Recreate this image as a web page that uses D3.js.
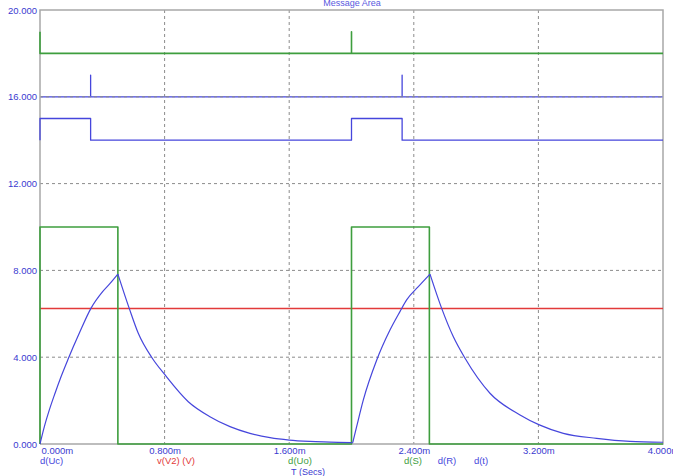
<!DOCTYPE html>
<html>
<head>
<meta charset="utf-8">
<script src="https://cdn.jsdelivr.net/npm/d3@7"></script>
<style>
  html, body { margin: 0; padding: 0; background: #fff; }
  svg { display: block; font-family: "Liberation Sans", Arial, sans-serif; }
  .tick-lbl { font-size: 9.5px; fill: #3a3ad0; }
  .grid { stroke: #8c8c8c; stroke-width: 1; stroke-dasharray: 3,3; }
  .frame { stroke: #a8a8a8; stroke-width: 1.5; fill: none; }
  .trace { fill: none; stroke-linejoin: round; }
</style>
</head>
<body>
<svg id="chart" width="673" height="476"></svg>
<script>
// time axis in ms
const xTicks = [0, 0.8, 1.6, 2.4, 3.2, 4.0];
const yTicks = [0, 4, 8, 12, 16, 20];

// d(Uc) capacitor voltage
const ucT = [0, 0.028, 0.06, 0.096, 0.135, 0.178, 0.252, 0.327, 0.402, 0.45, 0.5,
  0.573, 0.631, 0.721, 0.803, 0.952, 1.091, 1.22, 1.348, 1.477, 1.6, 1.733, 1.862, 2.0,
  2.008, 2.033, 2.076, 2.162, 2.247, 2.311, 2.354, 2.429, 2.504,
  2.579, 2.654, 2.729, 2.889, 3.082, 3.206, 3.36, 3.574, 3.788, 4.0];
const ucV = [0, 0.8, 1.57, 2.33, 3.1, 3.87, 5.1, 6.25, 7.02, 7.4, 7.83,
  6.25, 5.1, 3.95, 3.18, 1.95, 1.26, 0.8, 0.49, 0.29, 0.18, 0.12, 0.09, 0.06,
  0.06, 0.8, 2.03, 3.87, 5.25, 6.1, 6.64, 7.25, 7.83,
  6.25, 4.94, 3.95, 2.34, 1.34, 0.88, 0.49, 0.26, 0.12, 0.08];
// charge / discharge segment boundaries (times)
const ucBreaks = [0, 0.5, 2.0, 2.008, 2.504, 4.0];

// v(V2) reference level
const v2T = [0, 4.0];
const v2V = [6.25, 6.25];

// d(Uo) output square pulse
const uoT = [0, 0, 0.5, 0.5, 2.0, 2.0, 2.5, 2.5, 4.0];
const uoV = [0, 10, 10, 0, 0, 10, 10, 0, 0];

// d(S) set spikes
const sT = [0, 0, 2.0, 2.0, 2.0, 4.0];
const sV = [19, 18, 18, 19, 18, 18];

// d(R) reset spikes
const rT = [0, 0.325, 0.325, 0.325, 2.325, 2.325, 2.325, 4.0];
const rV = [16, 16, 17, 16, 16, 17, 16, 16];

// d(t) latch state
const tT = [0, 0, 0.325, 0.325, 2.0, 2.0, 2.325, 2.325, 4.0];
const tV = [14, 15, 15, 14, 14, 15, 15, 14, 14];

const GREEN = '#3e9e3e', BLUE = '#4646dc', RED = '#e23a3a';

const W = 673, H = 476;
const m = { top: 10, right: 10, bottom: 32, left: 40 };
const svg = d3.select('#chart');

const x = d3.scaleLinear().domain([0, 4]).range([m.left, W - m.right]);
const y = d3.scaleLinear().domain([0, 20]).range([H - m.bottom, m.top]);

const zip = (a, b) => a.map((t, i) => [t, b[i]]);
const line = d3.line().x(d => x(d[0])).y(d => y(d[1]));
const smooth = d3.line().x(d => x(d[0])).y(d => y(d[1])).curve(d3.curveMonotoneX);

// traces that sit under the grid
svg.append('path').attr('class', 'trace')
  .attr('d', line(zip(rT, rV))).attr('stroke', BLUE).attr('stroke-width', 1.3);

// grid
svg.append('g').selectAll('line.gx')
  .data(xTicks.slice(1, -1))
  .join('line').attr('class', 'grid')
  .attr('x1', d => x(d)).attr('x2', d => x(d))
  .attr('y1', y(20)).attr('y2', y(0));
svg.append('g').selectAll('line.gy')
  .data(yTicks.slice(1, -1))
  .join('line').attr('class', 'grid')
  .attr('y1', d => y(d)).attr('y2', d => y(d))
  .attr('x1', x(0)).attr('x2', x(4));

// frame
svg.append('path').attr('class', 'frame')
  .attr('d', `M${x(0)},${y(0)}V${y(20)}H${x(4)}V${y(0)}H${x(0)}`);

// traces
svg.append('path').attr('class', 'trace')
  .attr('d', line(zip(v2T, v2V))).attr('stroke', RED).attr('stroke-width', 1.5);
svg.append('path').attr('class', 'trace')
  .attr('d', line(zip(uoT, uoV))).attr('stroke', GREEN).attr('stroke-width', 1.6);
svg.append('path').attr('class', 'trace')
  .attr('d', line(zip(sT, sV))).attr('stroke', GREEN).attr('stroke-width', 1.6);
svg.append('path').attr('class', 'trace')
  .attr('d', line(zip(tT, tV))).attr('stroke', BLUE).attr('stroke-width', 1.3);

// Uc drawn piecewise so the peaks stay sharp
const ucPts = zip(ucT, ucV);
const ucSegs = d3.pairs(ucBreaks).map(([a, b]) => ucPts.filter(p => p[0] >= a && p[0] <= b));
svg.append('g').selectAll('path')
  .data(ucSegs)
  .join('path').attr('class', 'trace')
  .attr('d', d => smooth(d))
  .attr('stroke', BLUE).attr('stroke-width', 1.2);

// y axis labels
const yAxis = d3.axisLeft(y).tickValues(yTicks).tickSize(0).tickPadding(3)
  .tickFormat(d3.format('.3f'));
const gy = svg.append('g').attr('transform', `translate(${m.left},0)`).call(yAxis);
gy.select('.domain').remove();
gy.selectAll('text').attr('class', 'tick-lbl').attr('font-size', null).attr('font-family', null);

// x axis labels
const xAxis = d3.axisBottom(x).tickValues(xTicks).tickSize(0).tickPadding(3)
  .tickFormat(d => d3.format('.3f')(d) + 'm');
const gx = svg.append('g').attr('transform', `translate(0,${y(0)})`).call(xAxis);
gx.select('.domain').remove();
gx.selectAll('text').attr('class', 'tick-lbl').attr('font-size', null).attr('font-family', null)
  .attr('text-anchor', (d, i) => i === 0 ? 'start' : 'middle')
  .attr('dx', (d, i) => i === 0 ? 1 : 0);

// trace names under the axis
const names = [
  { t: 'd(Uc)', x: 40, anchor: 'start', c: BLUE },
  { t: 'v(V2) (V)', x: 176, anchor: 'middle', c: RED },
  { t: 'd(Uo)', x: 300, anchor: 'middle', c: GREEN },
  { t: 'd(S)', x: 413, anchor: 'middle', c: GREEN },
  { t: 'd(R)', x: 447, anchor: 'middle', c: BLUE },
  { t: 'd(t)', x: 481, anchor: 'middle', c: BLUE },
];
svg.append('g').selectAll('text')
  .data(names)
  .join('text')
  .attr('x', d => d.x).attr('y', 464)
  .attr('text-anchor', d => d.anchor)
  .attr('fill', d => d.c)
  .style('font-size', '9.5px')
  .text(d => d.t);

svg.append('text')
  .attr('x', 308).attr('y', 475)
  .attr('text-anchor', 'middle')
  .attr('fill', '#3a3ad0')
  .style('font-size', '9px')
  .text('T (Secs)');

// message line, partly hidden by the window top as in the original
svg.append('text')
  .attr('x', 352).attr('y', 6)
  .attr('text-anchor', 'middle')
  .attr('fill', '#5a5ae0')
  .style('font-size', '9px')
  .text('Message Area');
</script>
</body>
</html>
